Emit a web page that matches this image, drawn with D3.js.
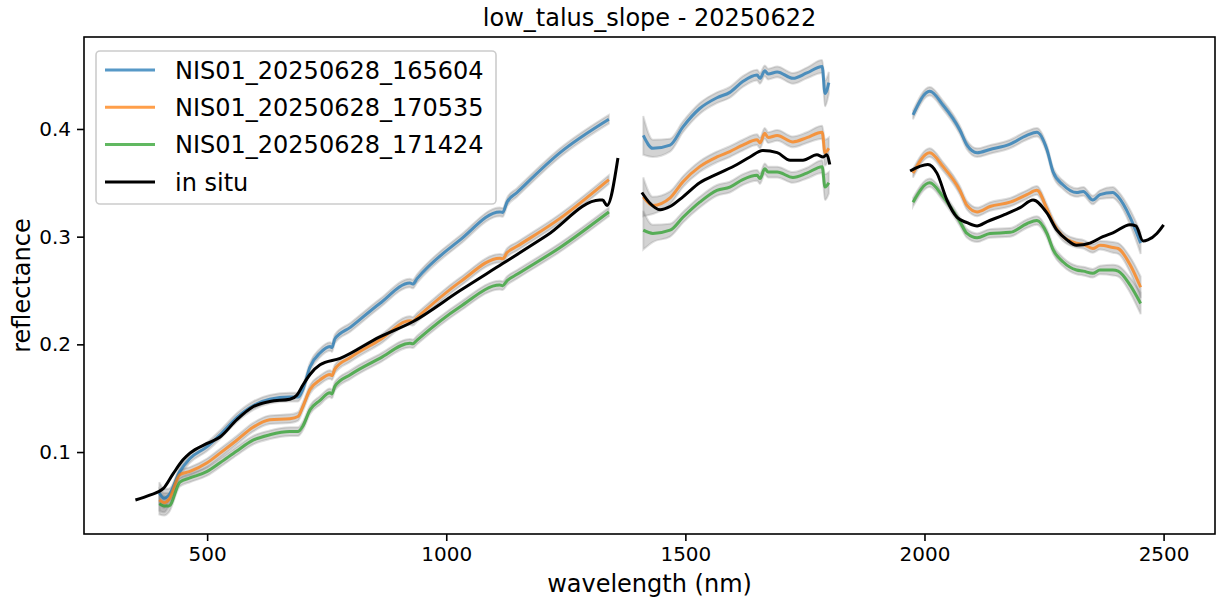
<!DOCTYPE html>
<html>
<head>
<meta charset="utf-8">
<script src="https://cdn.jsdelivr.net/npm/d3@7"></script>
<style>
  body { margin: 0; background: #fff; }
  text { font-family: "DejaVu Sans", sans-serif; }
</style>
</head>
<body>
<svg id="grafico"></svg>
<script>
// titulos e legendas
const titulo = "low_talus_slope - 20250622";
const nomesSeries = ["NIS01_20250628_165604", "NIS01_20250628_170535", "NIS01_20250628_171424", "in situ"];
const ticksX = [500, 1000, 1500, 2000, 2500];
const ticksY = [0.1, 0.2, 0.3, 0.4];

// comprimentos de onda das imagens NIS (tres trechos, sem as bandas de agua)
const ondaNis1 = [400, 410, 420, 443, 464, 500, 527, 562, 596, 631, 673, 690, 700, 715, 736, 757, 761, 767, 800, 861, 924, 930, 939, 1029, 1112, 1118, 1127, 1148, 1238, 1340];
const ondaNis2 = [1412, 1432, 1468, 1495, 1530, 1566, 1593, 1620, 1650, 1656, 1666, 1673, 1692, 1725, 1754, 1786, 1792, 1800];
const ondaNis3 = [1976, 2011, 2039, 2074, 2089, 2110, 2137, 2179, 2214, 2235, 2256, 2269, 2290, 2318, 2332, 2352, 2367, 2394, 2405, 2430, 2452];

// NIS01_20250628_165604
const nis165604_1 = [0.062, 0.057, 0.060, 0.082, 0.094, 0.105, 0.116, 0.132, 0.143, 0.149, 0.151, 0.151, 0.158, 0.179, 0.192, 0.198, 0.197, 0.205, 0.216, 0.238, 0.257, 0.256, 0.261, 0.297, 0.323, 0.3225, 0.332, 0.341, 0.378, 0.409];
const nis165604_2 = [0.394, 0.382, 0.385, 0.402, 0.419, 0.429, 0.434, 0.444, 0.450, 0.447, 0.454, 0.451, 0.453, 0.447, 0.452, 0.458, 0.433, 0.443];
const nis165604_3 = [0.413, 0.435, 0.422, 0.399, 0.385, 0.378, 0.381, 0.386, 0.394, 0.397, 0.381, 0.360, 0.348, 0.341, 0.342, 0.334, 0.339, 0.341, 0.337, 0.318, 0.294];

// NIS01_20250628_170535
const nis170535_1 = [0.0555, 0.053, 0.056, 0.079, 0.082, 0.090, 0.099, 0.111, 0.123, 0.130, 0.131, 0.133, 0.142, 0.158, 0.167, 0.172, 0.171, 0.177, 0.188, 0.204, 0.222, 0.2215, 0.225, 0.258, 0.280, 0.2795, 0.285, 0.291, 0.317, 0.353];
const nis170535_2 = [0.337, 0.329, 0.336, 0.351, 0.365, 0.374, 0.379, 0.385, 0.390, 0.387, 0.396, 0.392, 0.394, 0.388, 0.392, 0.397, 0.378, 0.382];
const nis170535_3 = [0.359, 0.378, 0.365, 0.343, 0.329, 0.323, 0.328, 0.332, 0.339, 0.343, 0.326, 0.313, 0.300, 0.294, 0.293, 0.289, 0.292, 0.290, 0.289, 0.274, 0.253];

// NIS01_20250628_171424
const nis171424_1 = [0.052, 0.050, 0.050, 0.072, 0.076, 0.082, 0.090, 0.101, 0.111, 0.116, 0.119, 0.119, 0.124, 0.139, 0.148, 0.155, 0.154, 0.161, 0.172, 0.187, 0.201, 0.2005, 0.204, 0.235, 0.255, 0.2545, 0.259, 0.265, 0.290, 0.323];
const nis171424_2 = [0.306, 0.303, 0.306, 0.318, 0.332, 0.343, 0.346, 0.353, 0.357, 0.354, 0.363, 0.360, 0.360, 0.355, 0.359, 0.365, 0.346, 0.350];
const nis171424_3 = [0.332, 0.350, 0.337, 0.314, 0.303, 0.299, 0.303, 0.304, 0.312, 0.315, 0.303, 0.288, 0.2765, 0.269, 0.268, 0.266, 0.269, 0.269, 0.268, 0.255, 0.238];

// desvio (faixa cinza) em cada trecho
const desvio1 = [0.010, 0.009, 0.006, 0.004, 0.004, 0.004, 0.004, 0.004, 0.004, 0.004, 0.004, 0.004, 0.004, 0.004, 0.004, 0.004, 0.004, 0.004, 0.004, 0.004, 0.004, 0.004, 0.004, 0.004, 0.004, 0.004, 0.004, 0.004, 0.004, 0.004];
const desvio2 = [0.018, 0.008, 0.006, 0.005, 0.005, 0.005, 0.005, 0.005, 0.005, 0.005, 0.005, 0.005, 0.005, 0.005, 0.005, 0.006, 0.012, 0.010];
const desvio3 = [0.004, 0.004, 0.004, 0.004, 0.004, 0.004, 0.004, 0.004, 0.004, 0.004, 0.004, 0.004, 0.004, 0.004, 0.004, 0.004, 0.004, 0.005, 0.005, 0.007, 0.010];

// in situ
const ondaSitu1 = [350, 380, 408, 429, 450, 464, 500, 527, 562, 596, 631, 673, 688, 700, 715, 736, 778, 861, 930, 1029, 1118, 1210, 1321, 1327, 1336, 1359];
const situ1 = [0.0555, 0.060, 0.066, 0.080, 0.093, 0.099, 0.108, 0.114, 0.130, 0.142, 0.147, 0.149, 0.153, 0.162, 0.172, 0.181, 0.187, 0.207, 0.221, 0.250, 0.275, 0.301, 0.334, 0.334, 0.329, 0.373];
const ondaSitu2 = [1409, 1426, 1447, 1468, 1495, 1530, 1566, 1608, 1635, 1662, 1692, 1719, 1746, 1775, 1788, 1796, 1802];
const situ2 = [0.341, 0.331, 0.325, 0.328, 0.337, 0.350, 0.358, 0.367, 0.374, 0.380, 0.378, 0.371, 0.371, 0.376, 0.374, 0.376, 0.367];
const ondaSitu3 = [1970, 2007, 2026, 2047, 2068, 2089, 2110, 2131, 2165, 2200, 2227, 2256, 2277, 2298, 2318, 2346, 2373, 2394, 2430, 2442, 2457, 2467, 2486, 2500];
const situ3 = [0.361, 0.367, 0.359, 0.334, 0.318, 0.313, 0.310, 0.314, 0.320, 0.327, 0.334, 0.322, 0.306, 0.297, 0.292, 0.294, 0.300, 0.3035, 0.311, 0.310, 0.296, 0.297, 0.303, 0.311];

const cores = ["#1f77b4", "#ff7f0e", "#2ca02c", "#000000"];

let largura = 1222, altura = 604;
let margem = { esq: 84, dir: 1215, topo: 37, base: 534 };

let svg = d3.select("#grafico")
    .attr("width", largura)
    .attr("height", altura);

let fnX = d3.scaleLinear()
    .domain([242.5, 2607.5])
    .range([margem.esq, margem.dir]);

let fnY = d3.scaleLinear()
    .domain([0.0239, 0.4854])
    .range([margem.base, margem.topo]);

// junta onda + valores + desvio
function juntar(onda, valores, desvio) {
    return onda.map((w, i) => ({ w: w, v: valores[i], s: desvio ? desvio[i] : 0 }));
}

let trechosNis = [
    [juntar(ondaNis1, nis165604_1, desvio1), juntar(ondaNis2, nis165604_2, desvio2), juntar(ondaNis3, nis165604_3, desvio3)],
    [juntar(ondaNis1, nis170535_1, desvio1), juntar(ondaNis2, nis170535_2, desvio2), juntar(ondaNis3, nis170535_3, desvio3)],
    [juntar(ondaNis1, nis171424_1, desvio1), juntar(ondaNis2, nis171424_2, desvio2), juntar(ondaNis3, nis171424_3, desvio3)]
];
let trechosSitu = [juntar(ondaSitu1, situ1), juntar(ondaSitu2, situ2), juntar(ondaSitu3, situ3)];

let linha = d3.line()
    .x(d => fnX(d.w))
    .y(d => fnY(d.v))
    .curve(d3.curveMonotoneX);

let faixa = d3.area()
    .x(d => fnX(d.w))
    .y0(d => fnY(d.v - d.s))
    .y1(d => fnY(d.v + d.s))
    .curve(d3.curveMonotoneX);

let plotagem = svg.append("g");

// faixas cinzas
trechosNis.forEach(serie => {
    plotagem.selectAll(null)
        .data(serie)
        .enter()
        .append("path")
        .attr("d", faixa)
        .attr("fill", "#808080")
        .attr("fill-opacity", 0.35)
        .attr("stroke", "#808080")
        .attr("stroke-opacity", 0.25)
        .attr("stroke-width", 2);
});

// linhas NIS
trechosNis.forEach((serie, i) => {
    plotagem.selectAll(null)
        .data(serie)
        .enter()
        .append("path")
        .attr("d", linha)
        .attr("fill", "none")
        .attr("stroke", cores[i])
        .attr("stroke-opacity", 0.75)
        .attr("stroke-width", 3)
        .attr("stroke-linejoin", "round");
});

// in situ
plotagem.selectAll(".situ")
    .data(trechosSitu)
    .enter()
    .append("path")
    .classed("situ", true)
    .attr("d", linha)
    .attr("fill", "none")
    .attr("stroke", "#000")
    .attr("stroke-width", 3)
    .attr("stroke-linejoin", "round");

// eixos
let eixoX = svg.append("g")
    .attr("transform", `translate(0, ${margem.base})`)
    .call(d3.axisBottom(fnX).tickValues(ticksX).tickFormat(d3.format("d")).tickSize(7).tickPadding(6));

let eixoY = svg.append("g")
    .attr("transform", `translate(${margem.esq}, 0)`)
    .call(d3.axisLeft(fnY).tickValues(ticksY).tickFormat(d3.format(".1f")).tickSize(7).tickPadding(6));

[eixoX, eixoY].forEach(e => {
    e.select(".domain").remove();
    e.selectAll(".tick line").attr("stroke", "#000").attr("stroke-width", 1.6);
    e.selectAll(".tick text")
        .attr("font-family", "DejaVu Sans")
        .attr("font-size", 20)
        .attr("fill", "#000");
});

svg.append("rect")
    .attr("x", margem.esq)
    .attr("y", margem.topo)
    .attr("width", margem.dir - margem.esq)
    .attr("height", margem.base - margem.topo)
    .attr("fill", "none")
    .attr("stroke", "#000")
    .attr("stroke-width", 1.6);

svg.append("text")
    .text(titulo)
    .attr("x", (margem.esq + margem.dir) / 2)
    .attr("y", 26)
    .attr("text-anchor", "middle")
    .attr("font-size", 24);

svg.append("text")
    .text("wavelength (nm)")
    .attr("x", (margem.esq + margem.dir) / 2)
    .attr("y", 592)
    .attr("text-anchor", "middle")
    .attr("font-size", 24);

svg.append("text")
    .text("reflectance")
    .attr("transform", `translate(30, ${(margem.topo + margem.base) / 2}) rotate(-90)`)
    .attr("text-anchor", "middle")
    .attr("font-size", 24);

// legenda
let legenda = svg.append("g");
legenda.append("rect")
    .attr("x", 96)
    .attr("y", 51)
    .attr("width", 400)
    .attr("height", 153)
    .attr("rx", 4)
    .attr("fill", "#fff")
    .attr("fill-opacity", 0.8)
    .attr("stroke", "#cccccc")
    .attr("stroke-width", 1.6);

let itens = legenda.selectAll(".item")
    .data(nomesSeries)
    .enter()
    .append("g")
    .classed("item", true)
    .attr("transform", (d, i) => `translate(0, ${70 + i * 37.3})`);

itens.append("line")
    .attr("x1", 105)
    .attr("x2", 155)
    .attr("stroke", (d, i) => cores[i])
    .attr("stroke-opacity", (d, i) => i < 3 ? 0.75 : 1)
    .attr("stroke-width", 3);

itens.append("text")
    .text(d => d)
    .attr("x", 175)
    .attr("y", 8.8)
    .attr("font-size", 24);
</script>
</body>
</html>
